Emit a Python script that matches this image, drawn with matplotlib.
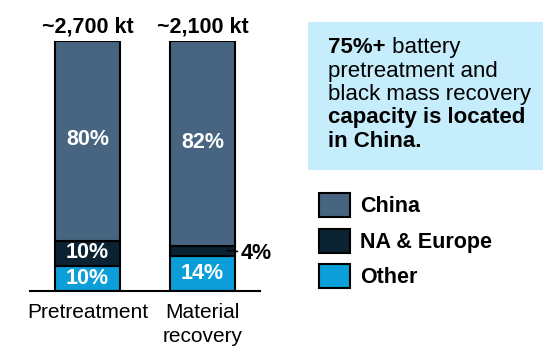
import matplotlib
matplotlib.use("Agg")
import matplotlib.pyplot as plt
from matplotlib.patches import Patch, Rectangle

plt.rcParams['font.family'] = ['Liberation Sans', 'DejaVu Sans']

categories = ['Pretreatment', 'Material\nrecovery']
totals = ['~2,700 kt', '~2,100 kt']
other = [10, 14]
na_europe = [10, 4]
china = [80, 82]

c_china = '#476580'
c_na = '#0b2232'
c_other = '#0c9ed9'
c_box = '#c6edfc'
fs = 15.5

W, H = 551, 353
fig = plt.figure(figsize=(W / 100, H / 100), dpi=100)

# bar axes, positioned in pixels
ax = fig.add_axes([30 / W, 1 - 290.5 / H, 230 / W, 249.5 / H])
x = range(len(categories))
bw = 0.557
ax.bar(x, other, bw, color=c_other, edgecolor='black', linewidth=1.5)
ax.bar(x, na_europe, bw, bottom=other, color=c_na, edgecolor='black', linewidth=1.5)
bottom2 = [o + n for o, n in zip(other, na_europe)]
ax.bar(x, china, bw, bottom=bottom2, color=c_china, edgecolor='black', linewidth=1.5)

ax.set_xlim(-0.5, 1.5)
ax.set_ylim(0, 100)
for s in ['top', 'left', 'right']:
    ax.spines[s].set_visible(False)
ax.spines['bottom'].set_linewidth(1.5)
ax.set_yticks([])
ax.set_xticks(list(x))
ax.set_xticklabels(categories, fontsize=15, linespacing=1.3)
ax.tick_params(axis='x', length=0, pad=9)

lab = dict(ha='center', va='center', color='white', fontsize=fs, fontweight='bold')
for i in x:
    ax.text(i, other[i] / 2 - 0.2, f'{other[i]}%', **lab)
    if na_europe[i] >= 8:
        ax.text(i, other[i] + na_europe[i] / 2 + 0.3, f'{na_europe[i]}%', **lab)
    else:
        ax.annotate(f'{na_europe[i]}%', xy=(i + bw / 2 - 0.06, other[i] + na_europe[i] / 2),
                    xytext=(i + bw / 2 + 0.05, other[i] + na_europe[i] / 2 - 1),
                    ha='left', va='center', fontsize=fs, fontweight='bold',
                    arrowprops=dict(arrowstyle='-', color='black', lw=1.2,
                                    shrinkA=0, shrinkB=0))
    ax.text(i, bottom2[i] + china[i] / 2 + 0.5, f'{china[i]}%', **lab)
    ax.text(i, 103.3, totals[i], ha='center', va='baseline', fontsize=fs, fontweight='bold')

# overlay in pixel coordinates for the callout box
ov = fig.add_axes([0, 0, 1, 1])
ov.set_xlim(0, W)
ov.set_ylim(H, 0)
ov.axis('off')
ov.add_patch(Rectangle((308, 22), 235, 148, facecolor=c_box, edgecolor='none'))
box_lines = [
    [('75%+', 'bold'), (' battery', 'normal')],
    [('pretreatment and', 'normal')],
    [('black mass recovery', 'normal')],
    [('capacity is located', 'bold')],
    [('in China.', 'bold')],
]
for k, parts in enumerate(box_lines):
    yb = 53 + 23.5 * k
    prev = None
    for txt, wt in parts:
        if prev is None:
            prev = ov.text(328, yb, txt, fontsize=16, fontweight=wt, va='baseline')
        else:
            prev = ov.annotate(txt, xy=(1, 0), xycoords=prev, fontsize=16,
                               fontweight=wt, va='bottom', ha='left')

handles = [Patch(facecolor=c, edgecolor='black', linewidth=1.5)
           for c in [c_china, c_na, c_other]]
fig.legend(handles, ['China', 'NA & Europe', 'Other'], loc='upper left',
           bbox_to_anchor=(319 / W, 1 - 193 / H), frameon=False,
           prop={'size': fs, 'weight': 'bold'}, handlelength=1.44, handleheight=1.34,
           handletextpad=0.47, labelspacing=0.53, borderpad=0, borderaxespad=0)

fig.savefig('out.png', dpi=100)
